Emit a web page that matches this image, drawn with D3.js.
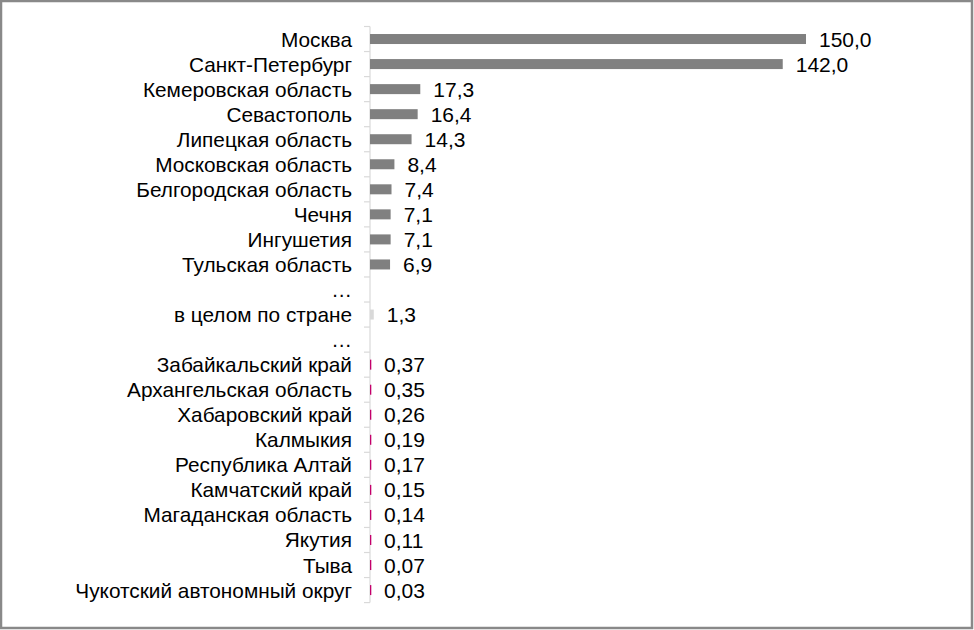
<!DOCTYPE html>
<html><head><meta charset="utf-8">
<script src="https://cdn.jsdelivr.net/npm/d3@7"></script>
<style>body{margin:0;background:#fff}svg{display:block}</style>
</head><body>
<svg id="c" width="974" height="630"></svg>
<script>
const categories = ["Москва","Санкт-Петербург","Кемеровская область","Севастополь","Липецкая область","Московская область","Белгородская область","Чечня","Ингушетия","Тульская область","…","в целом по стране","…","Забайкальский край","Архангельская область","Хабаровский край","Калмыкия","Республика Алтай","Камчатский край","Магаданская область","Якутия","Тыва","Чукотский автономный округ"];
const values = [150.0,142.0,17.3,16.4,14.3,8.4,7.4,7.1,7.1,6.9,null,1.3,null,0.37,0.35,0.26,0.19,0.17,0.15,0.14,0.11,0.07,0.03];
const groups = ["top","top","top","top","top","top","top","top","top","top","gap","avg","gap","low","low","low","low","low","low","low","low","low","low"];
const colors = {top:"#808080", avg:"#d9d9d9", low:"#c3006b"};

const svg = d3.select("#c");
svg.append("rect").attr("x",1).attr("y",1).attr("width",971).attr("height",627)
  .attr("fill","#fff").attr("stroke","#898989").attr("stroke-width",2.5);

const x = d3.scaleLinear().domain([0,150]).range([370,806]);
const top0 = 26.5, bot0 = 602.6;
const band = (bot0-top0)/categories.length;
const cy = i => top0+(i+0.5)*band;

const font = "'Liberation Sans', Arial, sans-serif";
const g = svg.append("g");
g.append("line").attr("x1",370).attr("x2",370).attr("y1",top0).attr("y2",bot0).attr("stroke","#d9d9d9").attr("stroke-width",1.2);
d3.range(categories.length+1).forEach(i=>{
  const yy = top0 + i*band;
  g.append("line").attr("x1",364).attr("x2",370).attr("y1",yy).attr("y2",yy).attr("stroke","#d9d9d9").attr("stroke-width",1.2);
});

const rows = categories.map((c,i)=>({c,v:values[i],g:groups[i],i}));
svg.selectAll(".lbl").data(rows).enter().append("text")
  .attr("x",352).attr("y",d=>cy(d.i)).attr("dy","0.36em")
  .attr("text-anchor","end").attr("font-family",font).attr("font-size",20.8).attr("fill","#000")
  .text(d=>d.c);

const bars = rows.filter(d=>d.v!==null);
svg.selectAll(".bar").data(bars).enter().append("rect")
  .attr("x",x(0)).attr("y",d=>cy(d.i)-5)
  .attr("width",d=>Math.max(x(d.v)-x(0),1.3)).attr("height",10)
  .attr("fill",d=>colors[d.g]);

const fmt = v => (v<1 ? v.toFixed(2) : v.toFixed(1)).replace(".",",");
svg.selectAll(".val").data(bars).enter().append("text")
  .attr("x",d=>Math.max(x(d.v),371)+13).attr("y",d=>cy(d.i)).attr("dy","0.36em")
  .attr("font-family",font).attr("font-size",21).attr("fill","#000")
  .text(d=>fmt(d.v));
</script>
</body></html>
